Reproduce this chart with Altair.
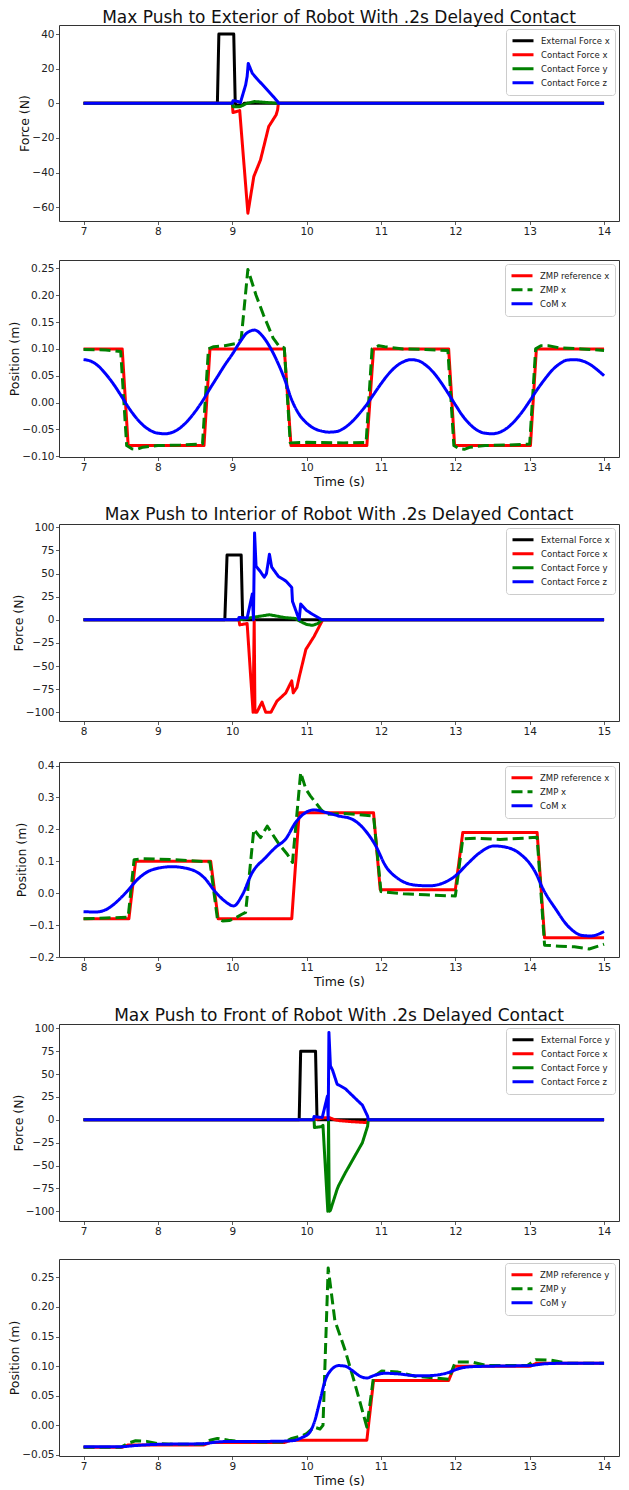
import altair as alt
import pandas as pd

FONT = "DejaVu Sans"

# ---------------- Figure 1 : exterior push (force) ----------------
P1_NAMES = ["External Force x", "Contact Force x", "Contact Force y", "Contact Force z"]
P1_EXT = [(7.0, 0), (8.80, 0), (8.82, 40), (9.02, 40), (9.04, 0), (9.05, -1), (9.14, -1), (9.16, 0), (14.0, 0)]
P1_CFX = [(7.0, 0), (9.0, 0), (9.01, -5.4), (9.10, -4.2), (9.21, -63.5), (9.29, -42.3), (9.38, -32.7),
          (9.49, -13.5), (9.59, -6.7), (9.61, -3.8), (9.62, 0), (14.0, 0)]
P1_CFY = [(7.0, 0), (9.0, 0), (9.01, -2), (9.10, -2), (9.20, 0), (9.30, 1), (9.45, 0.5), (9.60, 0), (14.0, 0)]
P1_CFZ = [(7.0, 0), (9.0, 0), (9.01, 1.5), (9.08, 1), (9.11, 0.4), (9.18, 10.6), (9.20, 15.4), (9.215, 23),
          (9.27, 17.3), (9.34, 13.8), (9.45, 8.7), (9.56, 3.5), (9.61, 1), (9.62, 0), (14.0, 0)]

# ---------------- Figure 1 : exterior push (ZMP / CoM) ----------------
P2_NAMES = ["ZMP reference x", "ZMP x", "CoM x"]
P2_ZREF = [(7.0, 0.10), (7.52, 0.10), (7.60, -0.08), (8.62, -0.08), (8.70, 0.10), (9.70, 0.10), (9.79, -0.08),
           (10.81, -0.08), (10.90, 0.10), (11.91, 0.10), (11.99, -0.08), (13.01, -0.08), (13.09, 0.10), (14.0, 0.10)]
P2_ZMP = [(7.0, 0.099), (7.3, 0.098), (7.5, 0.095), (7.58, -0.08), (7.65, -0.086), (7.72, -0.087), (7.8, -0.083),
          (8.0, -0.080), (8.3, -0.079), (8.6, -0.077), (8.68, 0.10), (8.75, 0.104), (8.9, 0.106), (9.05, 0.110),
          (9.12, 0.118), (9.21, 0.248), (9.32, 0.20), (9.42, 0.163), (9.55, 0.12), (9.63, 0.105), (9.70, 0.102),
          (9.78, -0.075), (10.0, -0.074), (10.5, -0.075), (10.8, -0.074), (10.88, 0.10), (10.97, 0.106),
          (11.05, 0.104), (11.3, 0.100), (11.6, 0.099), (11.9, 0.097), (11.98, -0.08), (12.05, -0.086),
          (12.12, -0.087), (12.2, -0.083), (12.4, -0.080), (12.7, -0.079), (13.0, -0.077), (13.08, 0.10),
          (13.15, 0.106), (13.25, 0.106), (13.4, 0.102), (13.7, 0.100), (14.0, 0.097)]
P2_COM = [(7.0, 0.080), (7.1, 0.077), (7.2, 0.068), (7.3, 0.053), (7.4, 0.035), (7.5, 0.014), (7.6, -0.008),
          (7.7, -0.027), (7.8, -0.042), (7.9, -0.052), (8.0, -0.057), (8.1, -0.058), (8.2, -0.055), (8.3, -0.047),
          (8.4, -0.034), (8.5, -0.017), (8.6, 0.003), (8.7, 0.026), (8.8, 0.048), (8.9, 0.070), (9.0, 0.090),
          (9.1, 0.112), (9.2, 0.130), (9.3, 0.135), (9.4, 0.125), (9.5, 0.105), (9.6, 0.078), (9.7, 0.045),
          (9.8, 0.005), (9.9, -0.022), (10.0, -0.038), (10.1, -0.048), (10.2, -0.053), (10.3, -0.055),
          (10.4, -0.054), (10.5, -0.048), (10.6, -0.037), (10.7, -0.022), (10.8, -0.005), (10.9, 0.015),
          (11.0, 0.035), (11.1, 0.053), (11.2, 0.067), (11.3, 0.076), (11.4, 0.080), (11.5, 0.078), (11.6, 0.070),
          (11.7, 0.057), (11.8, 0.039), (11.9, 0.018), (12.0, -0.004), (12.1, -0.025), (12.2, -0.041),
          (12.3, -0.052), (12.4, -0.057), (12.5, -0.058), (12.6, -0.055), (12.7, -0.047), (12.8, -0.034),
          (12.9, -0.017), (13.0, 0.003), (13.1, 0.024), (13.2, 0.043), (13.3, 0.060), (13.4, 0.072), (13.5, 0.079),
          (13.6, 0.080), (13.7, 0.078), (13.8, 0.072), (13.9, 0.062), (14.0, 0.050)]

# ---------------- Figure 2 : interior push (force) ----------------
P3_NAMES = ["External Force x", "Contact Force x", "Contact Force y", "Contact Force z"]
P3_EXT = [(8.0, 0), (9.90, 0), (9.93, 70), (10.12, 70), (10.14, 0), (15.0, 0)]
P3_CFX = [(8.0, 0), (10.09, 0), (10.10, -5.5), (10.20, -4), (10.28, -100), (10.295, -1), (10.305, -100),
          (10.33, -100), (10.40, -89), (10.45, -100), (10.52, -100), (10.60, -88), (10.72, -79), (10.80, -66),
          (10.82, -79), (10.87, -73), (10.90, -62), (10.99, -32), (11.10, -18), (11.21, -1), (11.22, 0), (15.0, 0)]
P3_CFY = [(8.0, 0), (10.10, 0), (10.30, 3), (10.50, 5.5), (10.70, 2.5), (10.85, 1.5), (10.92, -2), (11.00, -5),
          (11.08, -6), (11.15, -4), (11.21, 0), (15.0, 0)]
P3_CFZ = [(8.0, 0), (10.08, 0), (10.09, 2.5), (10.20, 2), (10.27, 28), (10.285, 0), (10.30, 94), (10.32, 58),
          (10.38, 52), (10.43, 46), (10.46, 50), (10.50, 71), (10.53, 57), (10.62, 47), (10.72, 42), (10.80, 35),
          (10.81, 20), (10.90, 0), (10.92, 17), (11.00, 10), (11.08, 6), (11.21, 0), (15.0, 0)]

# ---------------- Figure 2 : interior push (ZMP / CoM) ----------------
P4_NAMES = ["ZMP reference x", "ZMP x", "CoM x"]
P4_ZREF = [(8.0, -0.08), (8.61, -0.08), (8.70, 0.10), (9.71, 0.10), (9.81, -0.08), (10.80, -0.08), (10.90, 0.252),
           (11.90, 0.252), (11.99, 0.011), (13.00, 0.011), (13.10, 0.19), (14.10, 0.19), (14.20, -0.14), (15.0, -0.14)]
P4_ZMP = [(8.0, -0.08), (8.3, -0.078), (8.6, -0.075), (8.68, 0.105), (8.8, 0.108), (9.2, 0.105), (9.7, 0.098),
          (9.8, -0.08), (9.87, -0.087), (9.96, -0.086), (10.04, -0.078), (10.13, -0.066), (10.18, -0.06),
          (10.29, 0.20), (10.38, 0.174), (10.47, 0.21), (10.63, 0.153), (10.74, 0.122), (10.81, 0.096),
          (10.92, 0.378), (10.99, 0.326), (11.05, 0.305), (11.19, 0.263), (11.26, 0.247), (11.5, 0.25),
          (11.9, 0.242), (12.0, 0.005), (12.3, -0.002), (12.6, -0.005), (13.0, -0.009), (13.1, 0.170),
          (13.3, 0.172), (13.6, 0.168), (14.1, 0.175), (14.2, -0.163), (14.4, -0.166), (14.6, -0.168),
          (14.8, -0.175), (15.0, -0.16)]
P4_COM = [(8.0, -0.058), (8.17, -0.059), (8.33, -0.048), (8.46, -0.024), (8.59, 0.007), (8.73, 0.044),
          (8.92, 0.073), (9.19, 0.083), (9.46, 0.073), (9.62, 0.049), (9.78, 0.002), (9.9, -0.025), (10.02, -0.04),
          (10.13, -0.008), (10.27, 0.065), (10.45, 0.112), (10.58, 0.143), (10.72, 0.17), (10.85, 0.221),
          (10.99, 0.253), (11.10, 0.261), (11.26, 0.253), (11.43, 0.242), (11.61, 0.232), (11.79, 0.196),
          (11.93, 0.148), (12.06, 0.086), (12.24, 0.044), (12.47, 0.025), (12.65, 0.023), (12.79, 0.028),
          (13.0, 0.054), (13.16, 0.091), (13.33, 0.127), (13.52, 0.148), (13.7, 0.143), (13.86, 0.125),
          (14.08, 0.064), (14.18, 0.013), (14.35, -0.05), (14.51, -0.102), (14.72, -0.133), (14.83, -0.134),
          (14.93, -0.128), (15.0, -0.12)]

# ---------------- Figure 3 : front push (force) ----------------
P5_NAMES = ["External Force y", "Contact Force x", "Contact Force y", "Contact Force z"]
P5_EXT = [(7.0, 0), (9.90, 0), (9.92, 75), (10.12, 75), (10.14, 0), (14.0, 0)]
P5_CFX = [(7.0, 0), (10.10, 0), (10.22, 2), (10.30, 2.5), (10.38, 0), (10.45, -1), (10.60, -2), (10.80, -3),
          (10.83, 0), (14.0, 0)]
P5_CFY = [(7.0, 0), (10.10, 0), (10.105, -8.5), (10.20, -7.5), (10.22, -6), (10.285, -100), (10.295, -1),
          (10.305, -100), (10.32, -99), (10.41, -76), (10.43, -72), (10.52, -58), (10.66, -38), (10.75, -25),
          (10.82, -7), (10.83, 0), (14.0, 0)]
P5_CFZ = [(7.0, 0), (10.09, 0), (10.10, 3.5), (10.21, 2.5), (10.28, 26), (10.29, 0), (10.30, 95.5), (10.32, 59),
          (10.35, 54), (10.41, 39), (10.52, 34), (10.66, 23), (10.75, 16), (10.82, 4), (10.83, 0), (14.0, 0)]

# ---------------- Figure 3 : front push (ZMP / CoM) ----------------
P6_NAMES = ["ZMP reference y", "ZMP y", "CoM y"]
P6_ZREF = [(7.0, -0.037), (7.52, -0.037), (7.60, -0.033), (8.62, -0.033), (8.70, -0.029), (9.70, -0.029),
           (9.79, -0.025), (10.81, -0.025), (10.90, 0.076), (11.91, 0.076), (11.99, 0.100), (13.01, 0.100),
           (13.09, 0.105), (14.0, 0.105)]
P6_ZMP = [(7.0, -0.037), (7.5, -0.037), (7.6, -0.030), (7.7, -0.026), (7.85, -0.027), (8.0, -0.031), (8.3, -0.032),
          (8.6, -0.032), (8.7, -0.025), (8.8, -0.022), (8.95, -0.025), (9.1, -0.027), (9.4, -0.028), (9.7, -0.028),
          (9.8, -0.022), (9.93, -0.018), (10.0, -0.014), (10.1, -0.003), (10.18, -0.006), (10.22, 0.0),
          (10.29, 0.266), (10.38, 0.177), (10.52, 0.126), (10.65, 0.07), (10.76, 0.02), (10.81, -0.003),
          (10.90, 0.082), (11.01, 0.092), (11.23, 0.090), (11.46, 0.083), (11.73, 0.080), (11.91, 0.078),
          (12.0, 0.107), (12.22, 0.107), (12.43, 0.101), (12.97, 0.101), (13.08, 0.111), (13.29, 0.110),
          (13.51, 0.105), (14.0, 0.105)]
P6_COM = [(7.0, -0.036), (7.5, -0.036), (7.7, -0.034), (8.0, -0.032), (8.6, -0.031), (8.8, -0.028), (9.0, -0.027),
          (9.5, -0.027), (9.8, -0.026), (9.93, -0.021), (10.04, -0.012), (10.11, 0.008), (10.18, 0.042),
          (10.25, 0.076), (10.34, 0.095), (10.43, 0.101), (10.52, 0.100), (10.61, 0.093), (10.72, 0.083),
          (10.81, 0.080), (10.90, 0.084), (11.05, 0.088), (11.23, 0.087), (11.46, 0.084), (11.64, 0.084),
          (11.8, 0.086), (11.9, 0.089), (12.05, 0.096), (12.2, 0.099), (12.5, 0.100), (13.0, 0.101), (13.2, 0.104),
          (13.5, 0.105), (14.0, 0.105)]

TITLES = ["Max Push to Exterior of Robot With .2s Delayed Contact",
          "Max Push to Interior of Robot With .2s Delayed Contact",
          "Max Push to Front of Robot With .2s Delayed Contact"]

FORCE_COLORS = ["#000000", "#ff0000", "#008000", "#0000ff"]
POS_COLORS = ["#ff0000", "#008000", "#0000ff"]
SOLID = [1, 0]
DASHED = [11, 5]

W = 560
PX_PER_S = 74.36


def panel(names, colors, dashes, pts_list, smooth, x0, xticks, ydom, yticks, yfmt, ytitle, h,
          title=None, xtitle=None):
    xdom = [x0, x0 + W / PX_PER_S]
    layers = []
    for name, pts, sm in zip(names, pts_list, smooth):
        df = pd.DataFrame({"t": [p[0] for p in pts], "v": [p[1] for p in pts], "s": name})
        ch = alt.Chart(df).mark_line(
            strokeWidth=3, strokeJoin="round",
            interpolate="monotone" if sm else "linear",
        ).encode(
            x=alt.X("t:Q", scale=alt.Scale(domain=xdom, nice=False, zero=False),
                    axis=alt.Axis(values=xticks, format="d", title=xtitle)),
            y=alt.Y("v:Q", scale=alt.Scale(domain=ydom, nice=False, zero=False),
                    axis=alt.Axis(values=yticks, format=yfmt, title=ytitle)),
            color=alt.Color("s:N", scale=alt.Scale(domain=names, range=colors),
                            legend=alt.Legend(title=None)),
            strokeDash=alt.StrokeDash("s:N", scale=alt.Scale(domain=names, range=dashes),
                                      legend=alt.Legend(title=None)),
        )
        layers.append(ch)
    props = dict(width=W, height=h)
    if title:
        props["title"] = alt.TitleParams(title)
    return alt.layer(*layers).properties(**props)


def spacer(h):
    return alt.Chart(pd.DataFrame({"a": [0]})).mark_point(opacity=0).encode(
        x=alt.X("a:Q", axis=None), y=alt.Y("a:Q", axis=None)
    ).properties(width=W, height=h, view=alt.ViewBackground(stroke="transparent"))


T1 = [7, 8, 9, 10, 11, 12, 13, 14]
T2 = [8, 9, 10, 11, 12, 13, 14, 15]

p1 = panel(P1_NAMES, FORCE_COLORS, [SOLID] * 4, [P1_EXT, P1_CFX, P1_CFY, P1_CFZ], [False] * 4,
           6.67, T1, [-68.0, 45.2], [-60, -40, -20, 0, 20, 40], "d", "Force (N)", 196, title=TITLES[0])
p2 = panel(P2_NAMES, POS_COLORS, [SOLID, DASHED, SOLID], [P2_ZREF, P2_ZMP, P2_COM], [False, False, True],
           6.67, T1, [-0.1013, 0.2655], [-0.10, -0.05, 0.0, 0.05, 0.10, 0.15, 0.20, 0.25], ".2f", "Position (m)",
           197, xtitle="Time (s)")
p3 = panel(P3_NAMES, FORCE_COLORS, [SOLID] * 4, [P3_EXT, P3_CFX, P3_CFY, P3_CFZ], [False] * 4,
           7.67, T2, [-109.4, 103.6], [-100, -75, -50, -25, 0, 25, 50, 75, 100], "d", "Force (N)", 197,
           title=TITLES[1])
p4 = panel(P4_NAMES, POS_COLORS, [SOLID, DASHED, SOLID], [P4_ZREF, P4_ZMP, P4_COM], [False, False, True],
           7.67, T2, [-0.2, 0.411], [-0.2, -0.1, 0.0, 0.1, 0.2, 0.3, 0.4], ".1f", "Position (m)", 195,
           xtitle="Time (s)")
p5 = panel(P5_NAMES, FORCE_COLORS, [SOLID] * 4, [P5_EXT, P5_CFX, P5_CFY, P5_CFZ], [False] * 4,
           6.67, T1, [-110.6, 104.7], [-100, -75, -50, -25, 0, 25, 50, 75, 100], "d", "Force (N)", 197,
           title=TITLES[2])
p6 = panel(P6_NAMES, POS_COLORS, [SOLID, DASHED, SOLID], [P6_ZREF, P6_ZMP, P6_COM], [False, False, True],
           6.67, T1, [-0.0517, 0.281], [-0.05, 0.0, 0.05, 0.10, 0.15, 0.20, 0.25], ".2f", "Position (m)", 197,
           xtitle="Time (s)")

chart = alt.vconcat(
    p1, spacer(39), p2, spacer(67), p3, spacer(41), p4, spacer(67), p5, spacer(38), p6,
    spacing=0, bounds="flush"
).resolve_scale(
    x="independent", y="independent", color="independent", strokeDash="independent"
).resolve_legend(
    color="independent", strokeDash="independent"
).properties(
    padding={"left": 0, "top": 0, "right": 0, "bottom": 0}
).configure_view(
    stroke="#333333", strokeWidth=1
).configure_axis(
    labelFont=FONT, labelFontSize=10.5, labelColor="#222222",
    titleFont=FONT, titleFontSize=12.5, titleFontWeight="normal", titleColor="#111111",
    tickColor="#333333", tickSize=3.5, tickWidth=0.8, domain=False, grid=False
).configure_axisX(
    labelPadding=2, titlePadding=2.5
).configure_axisY(
    labelPadding=1.5, titlePadding=0
).configure_title(
    font=FONT, fontSize=17, fontWeight="normal", color="#111111", anchor="middle", offset=-2
).configure_legend(
    orient="top-right", offset=4, padding=5, strokeColor="#cccccc", fillColor="#ffffff",
    cornerRadius=3, labelFont=FONT, labelFontSize=8.5, labelColor="#222222",
    symbolType="stroke", symbolStrokeWidth=3, symbolSize=441, clipHeight=13.5, rowPadding=0, labelOffset=6
)

chart.save("out.html", embed_options={"renderer": "svg", "actions": False})
